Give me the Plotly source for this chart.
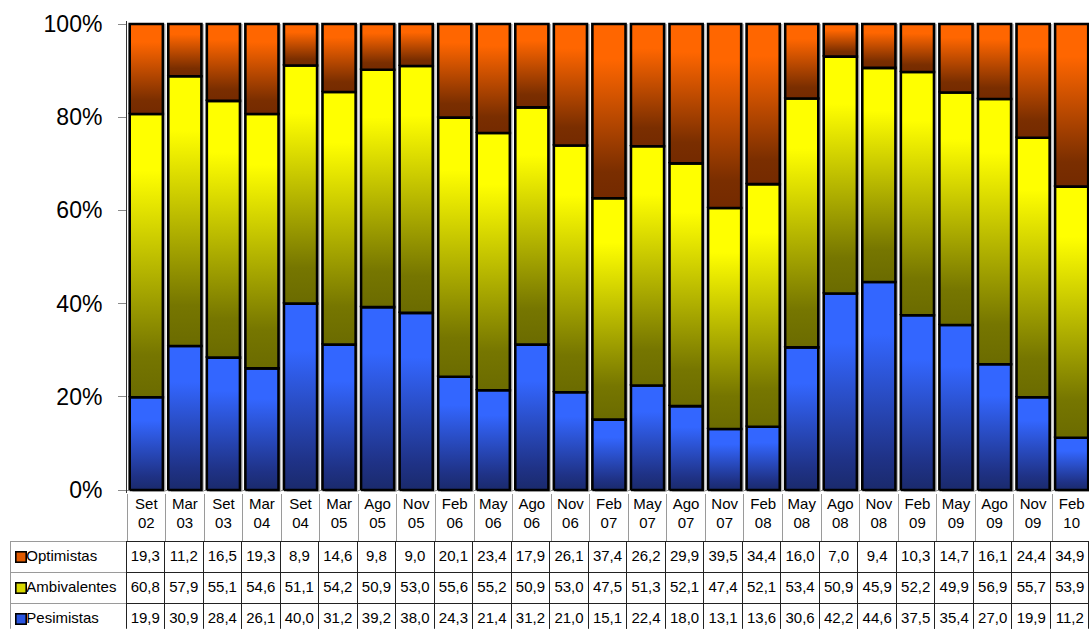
import plotly.graph_objects as go

categories = ["Set 02", "Mar 03", "Set 03", "Mar 04", "Set 04", "Mar 05", "Ago 05", "Nov 05",
              "Feb 06", "May 06", "Ago 06", "Nov 06", "Feb 07", "May 07", "Ago 07", "Nov 07",
              "Feb 08", "May 08", "Ago 08", "Nov 08", "Feb 09", "May 09", "Ago 09", "Nov 09", "Feb 10"]
optimistas = [19.3, 11.2, 16.5, 19.3, 8.9, 14.6, 9.8, 9.0, 20.1, 23.4, 17.9, 26.1, 37.4, 26.2,
              29.9, 39.5, 34.4, 16.0, 7.0, 9.4, 10.3, 14.7, 16.1, 24.4, 34.9]
ambivalentes = [60.8, 57.9, 55.1, 54.6, 51.1, 54.2, 50.9, 53.0, 55.6, 55.2, 50.9, 53.0, 47.5, 51.3,
                52.1, 47.4, 52.1, 53.4, 50.9, 45.9, 52.2, 49.9, 56.9, 55.7, 53.9]
pesimistas = [19.9, 30.9, 28.4, 26.1, 40.0, 31.2, 39.2, 38.0, 24.3, 21.4, 31.2, 21.0, 15.1, 22.4,
              18.0, 13.1, 13.6, 30.6, 42.2, 44.6, 37.5, 35.4, 27.0, 19.9, 11.2]
series_names = ["Pesimistas", "Ambivalentes", "Optimistas"]
y_ticks = [0, 20, 40, 60, 80, 100]
y_ticktext = ["0%", "20%", "40%", "60%", "80%", "100%"]

# styles (bottom -> top stacking)
grad = {
    "Pesimistas": [[0, "#1a2a6c"], [0.15, "#1f3286"], [0.75, "#3366ff"], [1, "#3366ff"]],
    "Ambivalentes": [[0, "#6b6b00"], [0.15, "#767600"], [0.8, "#ffff00"], [1, "#ffff00"]],
    "Optimistas": [[0, "#742a00"], [0.15, "#7a2e00"], [0.8, "#ff6600"], [1, "#ff6600"]],
}
legend_col = {"Optimistas": "#e05a00", "Ambivalentes": "#d8d800", "Pesimistas": "#2a55e0"}
HALF = 0.43
FONT = "Liberation Sans, Arial, sans-serif"
W, H = 1089, 629
PLOT_LEFT = 127
PLOT_TOP, PLOT_BOTTOM = 24, 490
TABLE_LEFT, TABLE_TOP, ROW_H = 10, 541.7, 31

values = {"Pesimistas": pesimistas, "Ambivalentes": ambivalentes, "Optimistas": optimistas}

fig = go.Figure()

# shadows
for i in range(len(categories)):
    x0, x1 = i - HALF + 0.07, i + HALF + 0.07
    fig.add_trace(go.Scatter(x=[x0, x1, x1, x0, x0], y=[-0.4, -0.4, 100, 100, -0.4],
                             mode="lines", fill="toself", fillcolor="#b8b8b8",
                             line=dict(width=0), hoverinfo="skip", showlegend=False))

for i, cat in enumerate(categories):
    total = sum(values[s][i] for s in series_names)
    base = 0.0
    for s in series_names:
        h = values[s][i] / total * 100
        y0, y1 = base, base + h
        x0, x1 = i - HALF, i + HALF
        fig.add_trace(go.Scatter(
            x=[x0, x1, x1, x0, x0], y=[y0, y0, y1, y1, y0],
            mode="lines", fill="toself",
            fillgradient=dict(type="vertical", colorscale=grad[s]),
            line=dict(color="black", width=2.6),
            name=s, hoverinfo="text", text=f"{s} {cat}: {values[s][i]}",
            showlegend=False))
        base = y1

# data table: first data row as header (styled like the cells)
row_order = ["Optimistas", "Ambivalentes", "Pesimistas"]
n = len(categories)
cols = [["\u00a0\u00a0" + s for s in row_order]]
for i in range(n):
    cols.append([f"{values[s][i]:.1f}".replace(".", ",") for s in row_order])

line_cols = ["#9a9a9a"] + ["#222222"] * n
aligns = ["left"] + ["center"] * n
tfont = dict(family=FONT, size=15, color="black")
fig.add_trace(go.Table(
    domain=dict(x=[TABLE_LEFT / W, 1], y=[0, (H - TABLE_TOP) / H]),
    columnwidth=[PLOT_LEFT - TABLE_LEFT - 1] + [(W - PLOT_LEFT + 1) / n] * n,
    header=dict(values=[c[0] for c in cols], height=ROW_H, align=aligns, font=tfont,
                fill=dict(color="white"), line=dict(color=line_cols, width=1)),
    cells=dict(values=[c[1:] for c in cols], height=ROW_H, align=aligns, font=tfont,
               fill=dict(color="white"), line=dict(color=line_cols, width=1)),
))

# legend keys in the table's label column
for k, s in enumerate(row_order):
    fig.add_annotation(xref="paper", yref="paper", x=21 / W, xanchor="center",
                       y=(H - (TABLE_TOP + ROW_H / 2 + ROW_H * k)) / H, yanchor="middle",
                       text="", width=9, height=9, bgcolor=legend_col[s], bordercolor="black",
                       borderwidth=1.6, borderpad=0, showarrow=False)

tick_labels = [c.replace(" ", "<br>") for c in categories]
yr = [-0.6, 100.6]
ypx = (PLOT_BOTTOM - PLOT_TOP) / 100
top_px = PLOT_TOP - 0.6 * ypx
bot_px = PLOT_BOTTOM + 0.6 * ypx

fig.update_layout(
    width=W, height=H,
    margin=dict(l=0, r=0, t=0, b=0, autoexpand=False),
    paper_bgcolor="white", plot_bgcolor="white",
    font=dict(family=FONT, color="black"),
    xaxis=dict(domain=[PLOT_LEFT / W, 1], range=[-0.5, 24.45], showgrid=False, zeroline=False,
               showline=False, tickmode="array", tickvals=list(range(n)), ticktext=tick_labels,
               ticks="", tickfont=dict(size=15, family=FONT), automargin=False,
               minor=dict(tickmode="array", tickvals=[i - 0.5 for i in range(n + 1)],
                          ticks="outside", ticklen=TABLE_TOP - bot_px, tickcolor="#9a9a9a",
                          tickwidth=1, showgrid=False)),
    yaxis=dict(domain=[(H - bot_px) / H, (H - top_px) / H], range=yr,
               tickmode="array", tickvals=y_ticks, ticktext=y_ticktext,
               showgrid=False, zeroline=True, zerolinecolor="#8a8a8a", zerolinewidth=1,
               showline=True, linecolor="#333333", linewidth=1, automargin=False,
               ticks="outside", ticklen=8, tickcolor="#8a8a8a",
               tickfont=dict(size=23, family=FONT), ticklabelstandoff=11),
)

fig.write_html("out.html", config={"displayModeBar": False},
               post_script="document.body.style.margin='0';document.body.style.overflow='hidden';")
